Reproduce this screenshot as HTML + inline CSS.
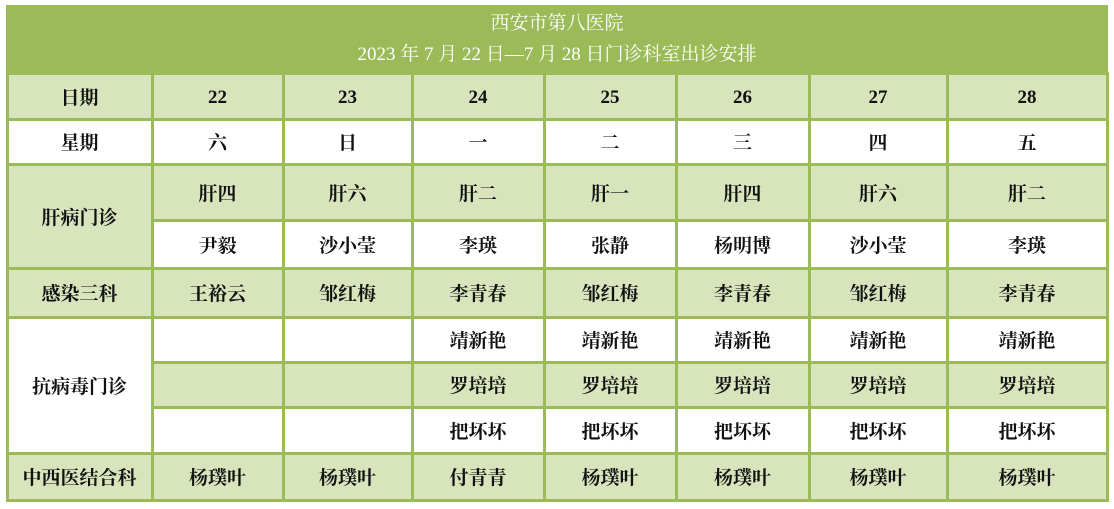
<!DOCTYPE html><html><head><meta charset="utf-8"><style>
body{margin:0;background:#fff;width:1114px;height:509px;overflow:hidden;font-family:"Liberation Serif","Noto Serif CJK SC",serif;}
.c{position:absolute;box-sizing:border-box;display:flex;align-items:center;justify-content:center;font-size:19px;font-weight:bold;color:#111;border:3px solid #9bbb59;}
.n{padding-top:4px}
.g{background:#d7e4bc}.w{background:#fff}
.h{position:absolute;left:6px;top:5px;width:1102px;height:70px;background:#9bbb59;color:#fff;font-size:19px;text-align:center;line-height:31px;padding-top:3px;box-sizing:border-box;}
</style></head><body>
<div class="h">西安市第八医院<br>2023 年 7 月 22 日—7 月 28 日门诊科室出诊安排</div>
<script>
var xs=[7,152,283,412,544,676,809,947,1107];
function cell(c0,c1,y0,y1,txt,cls){var d=document.createElement('div');d.className='c '+cls;if(/^\d+$/.test(txt))d.className+=' n';d.style.left=(xs[c0]-1.5)+'px';d.style.top=(y0-1.5)+'px';d.style.width=(xs[c1]-xs[c0]+3)+'px';d.style.height=(y1-y0+3)+'px';d.textContent=txt;document.body.appendChild(d);}
var Y=[73,119,164,220,268,317,362,407,453,500];
var rows=[
['g',0,1,['日期','22','23','24','25','26','27','28']],
['w',1,2,['星期','六','日','一','二','三','四','五']],
['g',2,3,[null,'肝四','肝六','肝二','肝一','肝四','肝六','肝二']],
['w',3,4,[null,'尹毅','沙小莹','李瑛','张静','杨明博','沙小莹','李瑛']],
['g',4,5,['感染三科','王裕云','邹红梅','李青春','邹红梅','李青春','邹红梅','李青春']],
['w',5,6,[null,'','','靖新艳','靖新艳','靖新艳','靖新艳','靖新艳']],
['g',6,7,[null,'','','罗培培','罗培培','罗培培','罗培培','罗培培']],
['w',7,8,[null,'','','把坏坏','把坏坏','把坏坏','把坏坏','把坏坏']],
['g',8,9,['中西医结合科','杨璞叶','杨璞叶','付青青','杨璞叶','杨璞叶','杨璞叶','杨璞叶']]];
rows.forEach(function(r){r[3].forEach(function(t,i){if(t!==null)cell(i,i+1,Y[r[1]],Y[r[2]],t,r[0]);});});
cell(0,1,Y[2],Y[4],'肝病门诊','g');
cell(0,1,Y[5],Y[8],'抗病毒门诊','w');
</script>
</body></html>
